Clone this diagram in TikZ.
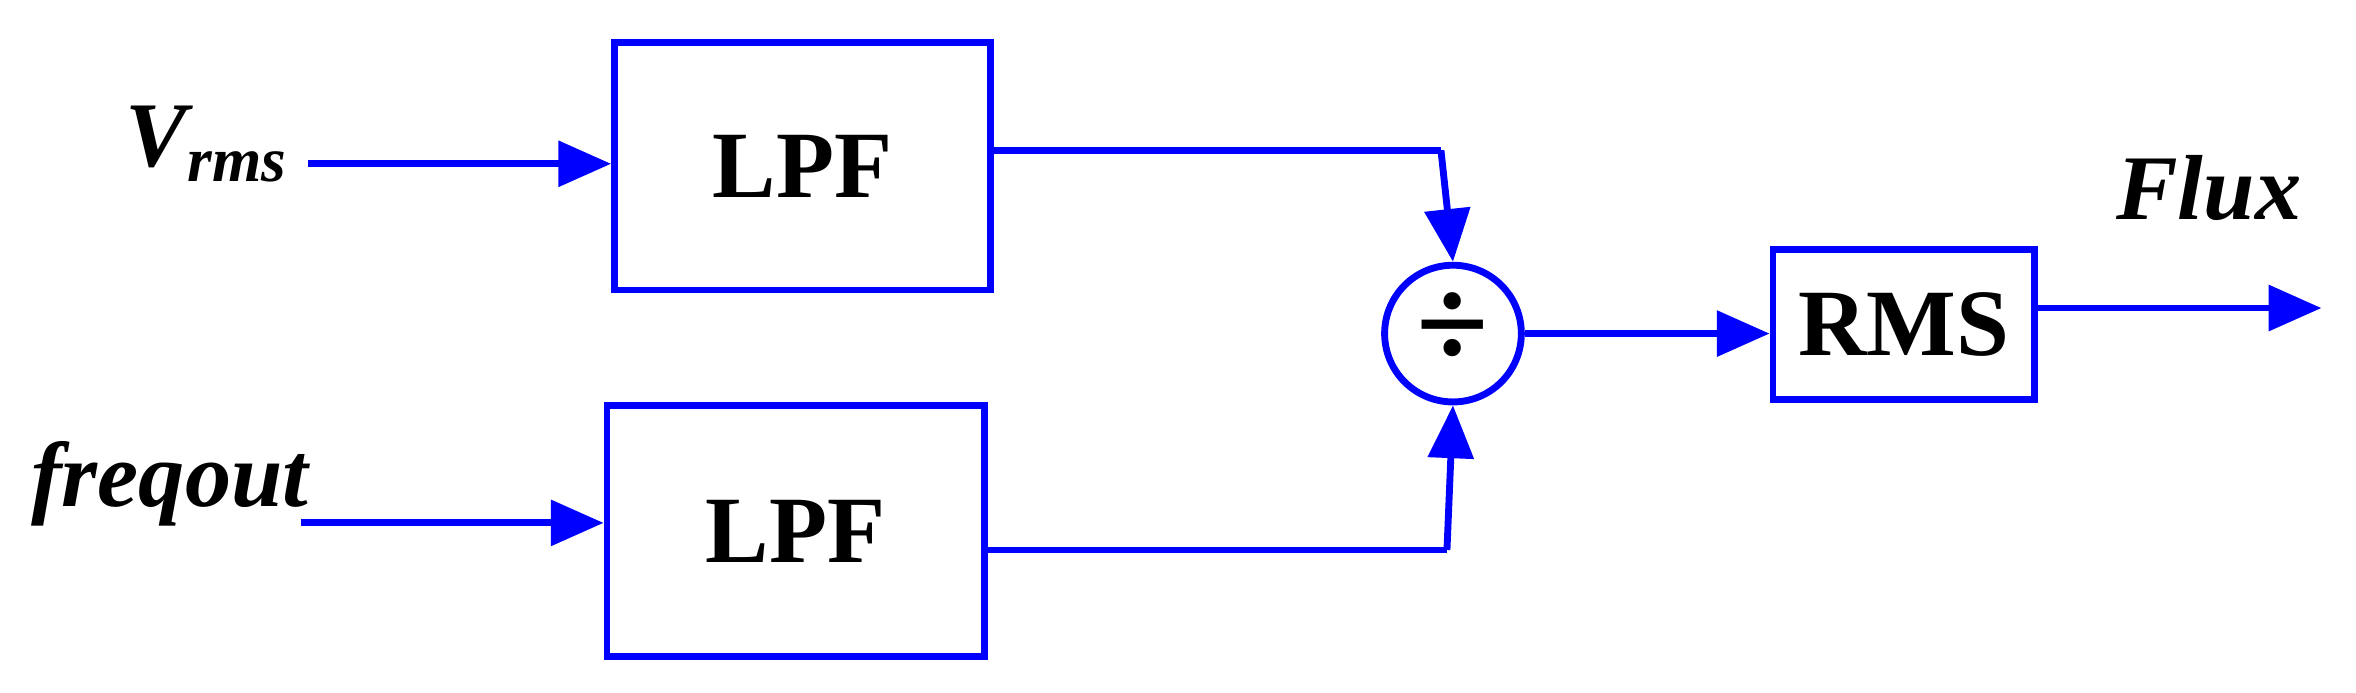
\documentclass[tikz,border=0pt]{standalone}
\usepackage{fontspec}
\setmainfont{Liberation Serif}
\usetikzlibrary{arrows.meta}
\begin{document}
\begin{tikzpicture}[x=0.02cm,y=-0.02cm,
  blk/.style={draw=blue,line width=2.6pt,minimum width=0,inner sep=0},
  lbl/.style={font=\fontsize{36}{40}\selectfont\bfseries},
  ilbl/.style={font=\fontsize{35}{40}\selectfont\bfseries\itshape},
  wire/.style={draw=blue,line width=2.6pt},
  arr/.style={wire,-{Triangle[length=20pt,width=17pt]}}]
\useasboundingbox (0,0) rectangle (1568,461);
\node[blk,minimum width=250*0.02cm,minimum height=165*0.02cm,lbl] (l1) at (534,110.5) {LPF};
\node[blk,minimum width=251*0.02cm,minimum height=167*0.02cm,lbl] (l2) at (529.5,353.5) {LPF};
\node[blk,circle,minimum size=91*0.02cm] (d) at (967,222) {};
\node[font=\fontsize{50}{50}\selectfont\bfseries] (dv) at (967,220) {÷};
\node[blk,minimum width=174*0.02cm,minimum height=100*0.02cm,lbl] (r) at (1267,216) {RMS};
\node[ilbl] (v) at (137,96) {V\raisebox{-0.35ex}{\fontsize{24}{24}\selectfont rms}};
\node[ilbl] (f) at (113,322) {freqout};
\node[ilbl] (fl) at (1470,125) {Flux};
\coordinate (vs) at (205,109);
\coordinate (fs) at (200,348);
\coordinate (o) at (1545,205);
\coordinate (c1) at (959,100);
\coordinate (c2) at (963,366);
\draw[arr] (vs) -- (vs -| l1.west);
\draw[arr] (fs) -- (fs -| l2.west);
\draw[wire] (l1.east |- c1) -- (c1);
\draw[arr] (c1) -- (d.north);
\draw[wire] (l2.east |- c2) -- (c2);
\draw[arr] (c2) -- (d.south);
\draw[arr] (d.east) -- (r.west |- d.east);
\draw[arr] (r.east |- o) -- (o);
\end{tikzpicture}
\end{document}
